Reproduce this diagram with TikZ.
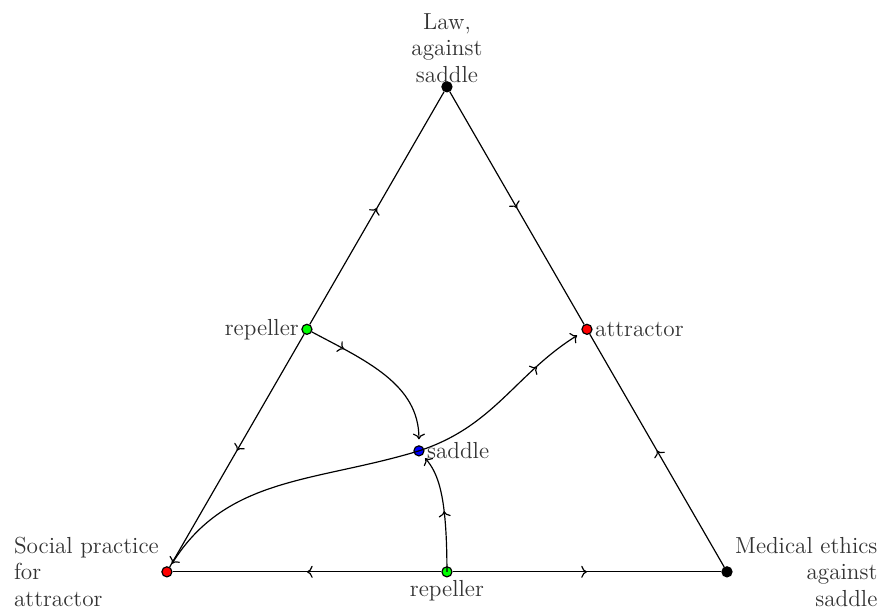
\documentclass[tikz,border=0pt]{standalone}
\usepackage{tikz}
\usetikzlibrary{arrows.meta,positioning,decorations.markings}

\begin{document}
\begin{tikzpicture}[line width=0.6pt, every node/.style={font=\fontsize{11.8}{13.5}\selectfont, text=black!80},
  pt/.style={circle, draw=black, inner sep=0pt, minimum size=0.18cm},
  midarrow/.style={postaction={decorate}, decoration={markings, mark=at position #1 with {\arrow{>}}}},
  midarrow/.default=0.5]
\useasboundingbox (-2.98,-0.73) rectangle (12.75,10.21);
% corners of the simplex
\node[pt, fill=black] (law) at (5,8.66) {};
\node[pt, fill=red] (soc) at (0,0) {};
\node[pt, fill=black] (med) at (10,0) {};
% fixed points on the edges and inside
\node[pt, fill=green] (repL) at (2.5,4.33) {};
\node[pt, fill=red] (att) at (7.5,4.33) {};
\node[pt, fill=green] (repB) at (5,0) {};
\node[pt, fill=blue] (sad) at (4.5,2.16) {};
% labels
\node[above=-2pt of law, align=center, inner sep=1pt] (lawlbl) {Law,\\against\\saddle};
\node[left=0pt of soc, align=left, inner sep=1pt] (soclbl) {Social practice\\for\\attractor};
\node[right=0pt of med, align=right, inner sep=1pt] (medlbl) {Medical ethics\\against\\saddle};
\node[left=0pt of repL, inner sep=1pt] (repLlbl) {repeller};
\node[right=0pt of att, inner sep=1pt] (attlbl) {attractor};
\node[right=0pt of sad, inner sep=1pt] (sadlbl) {saddle};
\node[below=0pt of repB, inner sep=1pt] (repBlbl) {repeller};
% edges
\draw[midarrow] (repL) -- (law);
\draw[midarrow] (repL) -- (soc);
\draw[midarrow] (law) -- (att);
\draw[midarrow] (med) -- (att);
\draw[midarrow] (repB) -- (soc);
\draw[midarrow] (repB) -- (med);
% flows through the interior
\draw[midarrow=0.22, -{>}, shorten >=3pt] (repL) to[out=-28, in=90] (sad);
\draw[midarrow=0.5, -{>}, shorten >=2pt] (repB.center) .. controls (5,1.35) and (4.85,1.75) .. (sad);
\draw[midarrow=0.72, -{>}, shorten >=3pt] (sad.center) to[out=18, in=-148] (att);
\draw[-{>}, shorten >=2pt] (sad.center) to[out=197, in=58] (soc);
\end{tikzpicture}
\end{document}
